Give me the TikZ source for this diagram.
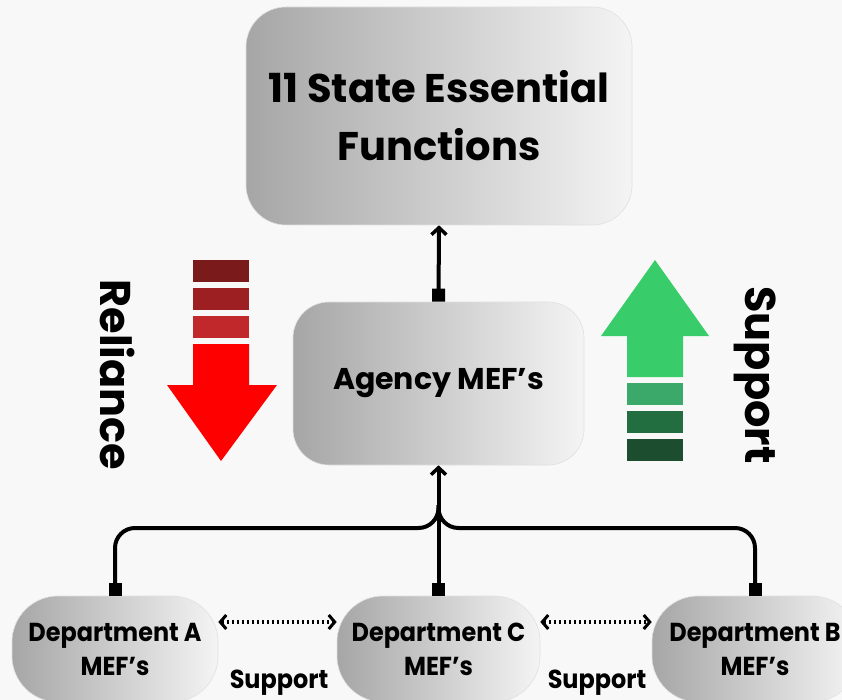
\documentclass[tikz,border=0pt]{standalone}
\usepackage{fontspec}
\setmainfont{Poppins}
\newfontfamily\condfont[FakeStretch=0.92]{Poppins}
\usetikzlibrary{arrows.meta}
\definecolor{bgc}{HTML}{F8F8F8}
\definecolor{boxdark}{HTML}{A6A6A6}
\definecolor{boxlight}{HTML}{F4F4F4}
\definecolor{red1}{HTML}{7B1A1A}
\definecolor{red2}{HTML}{9E1F22}
\definecolor{red3}{HTML}{C0282B}
\definecolor{redarrow}{HTML}{FF0000}
\definecolor{grn}{HTML}{38CC6A}
\definecolor{grn1}{HTML}{3AA96A}
\definecolor{grn2}{HTML}{236E40}
\definecolor{grn3}{HTML}{1B4D2E}
\tikzset{
  gbox/.style={draw=black!12, line width=0.6pt, left color=boxdark, right color=boxlight, align=center},
  deptbox/.style={gbox, rounded corners=46pt, minimum height=106pt, font=\condfont\bfseries\fontsize{26}{34}\selectfont},
  conn/.style={line width=4pt, draw=black},
  sqtip/.tip={Square[length=13pt,width=13pt]},
  bartip/.tip={Straight Barb[length=7pt,width=15pt,line width=3.5pt]},
  dots/.style={line width=3.5pt, dash pattern=on 2.5pt off 2.5pt, {Straight Barb[length=6pt,width=14pt,line width=3pt]}-{Straight Barb[length=6pt,width=14pt,line width=3pt]}},
  sublbl/.style={font=\condfont\bfseries\fontsize{26}{30}\selectfont},
  sidelbl/.style={rotate=-90, font=\bfseries\fontsize{43}{48}\selectfont},
}
\begin{document}
\begin{tikzpicture}[x=1pt,y=-1pt]
\useasboundingbox (0,0) rectangle (842,700);
\fill[bgc] (0,0) rectangle (842,700);

% boxes
\node[gbox, rounded corners=40pt, minimum width=386pt, minimum height=218pt, font=\bfseries\fontsize{40}{58}\selectfont] (top) at (439,116) {11 State Essential\\Functions};
\node[gbox, rounded corners=36pt, minimum width=291pt, minimum height=163pt, font=\bfseries\fontsize{30}{34}\selectfont] (agency) at (438.5,383.5) {Agency MEF’s};
\node[deptbox, minimum width=206pt] (deptA) at (115,649) {Department A\\MEF’s};
\node[deptbox, minimum width=203pt] (deptC) at (438.5,649) {Department C\\MEF’s};
\node[deptbox, minimum width=206pt] (deptB) at (755,649) {Department B\\MEF’s};

% connectors
\draw[conn, {sqtip}-{bartip}] (agency.north) -- (top.south);
\draw[conn, {sqtip}-{bartip}] (deptC.north) -- (agency.south);
\coordinate (jn) at (438.5,505);
\draw[conn, rounded corners=20pt, {sqtip}-] (deptA.north) |- (jn |- 0,528) -- (jn);
\draw[conn, rounded corners=20pt, {sqtip}-] (deptB.north) |- (jn |- 0,528) -- (jn);

% dotted support arrows
\draw[dots] (deptA.east |- 0,622) -- (deptC.west |- 0,622);
\draw[dots] (deptC.east |- 0,622) -- (deptB.west |- 0,622);
\node[sublbl] (s1) at (279,683) {Support};
\node[sublbl] (s2) at (597,683) {Support};

% reliance arrow
\fill[red1] (193,260) rectangle (249,282);
\fill[red2] (193,288) rectangle (249,310);
\fill[red3] (193,316) rectangle (249,338);
\fill[redarrow] (193,344) -- (249,344) -- (249,385) -- (277,385) -- (221,461) -- (167,385) -- (193,385) -- cycle;
\node[sidelbl] (rel) at (118,375) {Reliance};

% support arrow
\fill[grn] (627,377) -- (683,377) -- (683,336) -- (709,336) -- (655,260) -- (601,336) -- (627,336) -- cycle;
\fill[grn1] (627,383) rectangle (683,405);
\fill[grn2] (627,411) rectangle (683,433);
\fill[grn3] (627,439) rectangle (683,461);
\node[sidelbl] (sup) at (755,375) {Support};
\end{tikzpicture}
\end{document}
